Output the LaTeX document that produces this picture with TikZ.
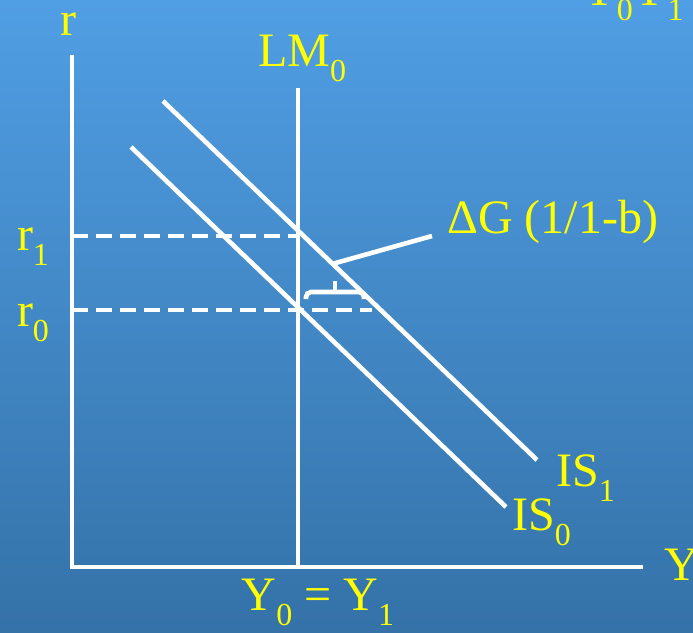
\documentclass[tikz,border=0pt]{standalone}
\usepackage{fontspec}
\setmainfont{Liberation Serif}
\definecolor{bgtop}{RGB}{80,158,228}
\definecolor{bgbot}{RGB}{52,114,168}
\definecolor{lbl}{RGB}{255,255,0}
\newcommand\sbt[1]{\raisebox{-0.32em}{\fontsize{32}{32}\selectfont #1}}
\tikzset{
  axisline/.style={draw=white,line width=4.6pt},
  curveline/.style={draw=white,line width=4.6pt},
  dashline/.style={draw=white,line width=4.6pt,dash pattern=on 16pt off 8pt},
  lbltext/.style={text=lbl,font=\fontsize{48}{52}\selectfont,inner sep=0pt},
}
\begin{document}
\begin{tikzpicture}[x=1pt,y=-1pt]
\shade[top color=bgtop,bottom color=bgbot] (0,0) rectangle (693,632);
\useasboundingbox (0,0) rectangle (693,632);
\clip (0,0) rectangle (693,632);
% coordinates
\coordinate (O) at (72,567);
\coordinate (ytop) at (72,55);
\coordinate (xend) at (643,567);
\coordinate (lmtop) at (298,88);
\coordinate (lmbot) at (298,567);
\coordinate (r1a) at (72,236);
\coordinate (r1b) at (300,236);
\coordinate (r0a) at (72,310);
\coordinate (r0b) at (372,310);
\coordinate (is0a) at (131,147);
\coordinate (is0b) at (506,507);
\coordinate (is1a) at (163,101);
\coordinate (is1b) at (537,460);
\coordinate (bl) at (306,299);
\coordinate (bml) at (306,292);
\coordinate (bmr) at (364,292);
\coordinate (br) at (364,299);
\coordinate (bc) at (335,292);
\coordinate (btip) at (335,281);
\coordinate (pa) at (332,264);
\coordinate (pb) at (432,236);
% lines
\draw[axisline] (ytop) -- (O) -- (xend);
\draw[axisline] (lmtop) -- (lmbot);
\draw[dashline] (r1a) -- (r1b);
\draw[dashline] (r0a) -- (r0b);
\draw[curveline] (is0a) -- (is0b);
\draw[curveline] (is1a) -- (is1b);
\draw[curveline,rounded corners=5pt] (bl) -- (bml) -- (bmr) -- (br);
\draw[curveline] (bc) -- (btip);
\draw[curveline] (pa) -- (pb);
% labels
\node[lbltext,anchor=base] (rlab) at (68,35) {r};
\node[lbltext,anchor=base] (lmlab) at (302,66) {LM\sbt{0}};
\node[lbltext,anchor=base] (r1lab) at (33,250) {r\sbt{1}};
\node[lbltext,anchor=base] (r0lab) at (33,326) {r\sbt{0}};
\node[lbltext,anchor=base west] (dglab) at (447,233) {ΔG (1/1-b)};
\node[lbltext,anchor=base west] (is1lab) at (556,486) {IS\sbt{1}};
\node[lbltext,anchor=base west] (is0lab) at (512,530) {IS\sbt{0}};
\node[lbltext,anchor=base west] (ylab) at (664,580) {Y};
\node[lbltext,anchor=base] (yeq) at (318,610) {Y\sbt{0} = Y\sbt{1}};
\node[lbltext,anchor=base west] (ytoplab) at (582,5) {Y\sbt{0}Y\sbt{1}};
\end{tikzpicture}
\end{document}
